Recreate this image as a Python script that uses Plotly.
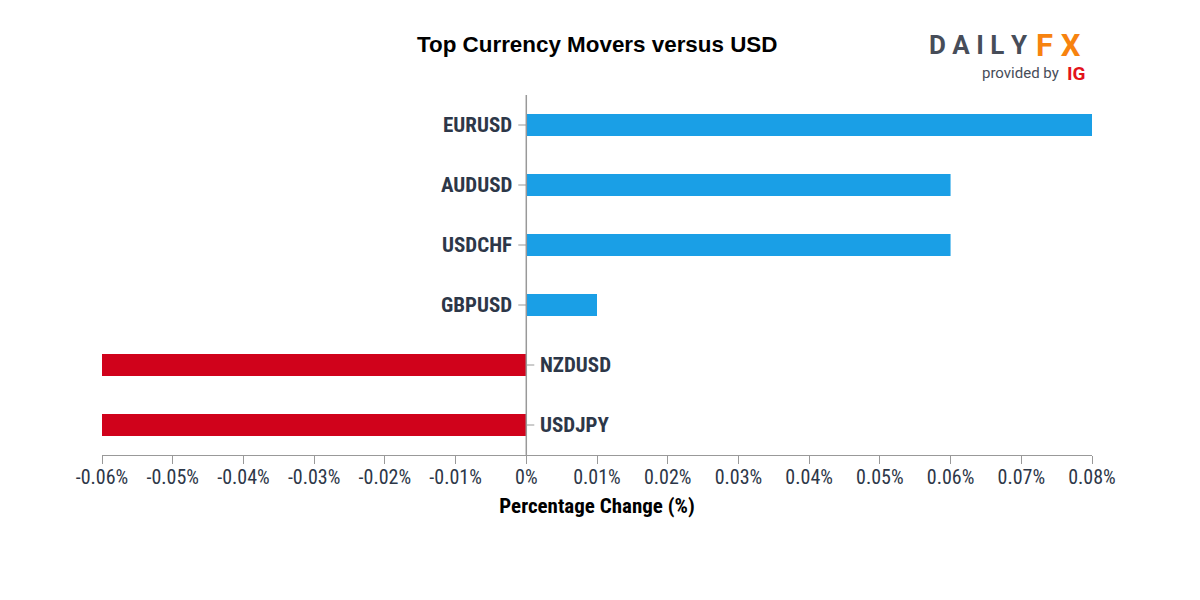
import plotly.graph_objects as go

pairs = ["EURUSD", "AUDUSD", "USDCHF", "GBPUSD", "NZDUSD", "USDJPY"]
changes = [0.08, 0.06, 0.06, 0.01, -0.06, -0.06]
tick_vals = [-0.06, -0.05, -0.04, -0.03, -0.02, -0.01, 0, 0.01, 0.02, 0.03, 0.04, 0.05, 0.06, 0.07, 0.08]
tick_text = ["-0.06%", "-0.05%", "-0.04%", "-0.03%", "-0.02%", "-0.01%", "0%", "0.01%", "0.02%",
             "0.03%", "0.04%", "0.05%", "0.06%", "0.07%", "0.08%"]

BLUE = "#1a9fe6"
RED = "#d0021b"
TXT = "#2d3748"
COND = "Roboto Condensed, Liberation Sans Narrow, DejaVu Sans Condensed, Roboto, sans-serif"

# plot domain in pixels
L, R, T, B = 102, 1092, 95, 455
W, H = 1200, 600


def px(x):
    return (x - L) / (R - L)


def py(y):
    return (B - y) / (B - T)


colors = [BLUE if v >= 0 else RED for v in changes]

fig = go.Figure(go.Bar(
    x=changes, y=pairs, orientation="h", marker=dict(color=colors, line=dict(width=0)),
    width=0.37, hoverinfo="x+y",
))

annotations = []
shapes = []
for p, v in zip(pairs, changes):
    if v >= 0:
        annotations.append(dict(x=0, y=p, xref="x", yref="y", text=f"<b>{p}</b>", showarrow=False,
                                xanchor="right", xshift=-12, font=dict(size=21, color=TXT, family=COND)))
        shapes.append(dict(type="line", xref="x", yref="y", xsizemode="pixel", xanchor=0,
                           x0=-8, x1=0, y0=p, y1=p, line=dict(color="#999999", width=1)))
    else:
        annotations.append(dict(x=0, y=p, xref="x", yref="y", text=f"<b>{p}</b>", showarrow=False,
                                xanchor="left", xshift=12, font=dict(size=21, color=TXT, family=COND)))
        shapes.append(dict(type="line", xref="x", yref="y", xsizemode="pixel", xanchor=0,
                           x0=0, x1=8, y0=p, y1=p, line=dict(color="#999999", width=1)))

# zero line
shapes.append(dict(type="line", xref="x", yref="paper", x0=0, x1=0, y0=0, y1=1,
                   line=dict(color="#999999", width=1.5), layer="above"))

# title
annotations.append(dict(x=px(597), y=py(44), xref="paper", yref="paper", showarrow=False,
                        text="<b>Top Currency Movers versus USD</b>",
                        font=dict(size=22.4, color="#000000", family="Liberation Sans, Arial, sans-serif"),
                        xanchor="center", yanchor="middle"))

# logo (as text)
logo_font = "Roboto, Liberation Sans, sans-serif"
annotations.append(dict(x=px(1030), y=py(45), xref="paper", yref="paper", showarrow=False,
                        xanchor="right", yanchor="middle",
                        text="<b>D A I L Y</b>", font=dict(size=26, color="#474d59", family=logo_font)))
annotations.append(dict(x=px(1034), y=py(45), xref="paper", yref="paper", showarrow=False,
                        xanchor="left", yanchor="middle",
                        text="<b>F X</b>", font=dict(size=31, color="#f7830f", family=logo_font)))
annotations.append(dict(x=px(1061), y=py(73), xref="paper", yref="paper", showarrow=False,
                        xanchor="right", yanchor="middle",
                        text="provided by", font=dict(size=15, color="#474d59", family=logo_font)))
annotations.append(dict(x=px(1065), y=py(73), xref="paper", yref="paper", showarrow=False,
                        xanchor="left", yanchor="middle",
                        text="<b>IG</b>", font=dict(size=19, color="#e3131b", family=logo_font)))

fig.update_layout(
    width=W, height=H,
    paper_bgcolor="white", plot_bgcolor="white",
    margin=dict(l=L, r=W - R, t=T, b=H - B),
    showlegend=False,
    xaxis=dict(range=[-0.06, 0.08], tickvals=tick_vals, ticktext=tick_text, showgrid=False,
               zeroline=False, showline=True, linecolor="#999999", linewidth=1,
               ticks="outside", ticklen=8, tickcolor="#999999", ticklabelstandoff=-4,
               tickfont=dict(size=20, color=TXT, family=COND),
               title=dict(text="<b>Percentage Change (%)</b>", standoff=10,
                          font=dict(size=21, color="#000000", family=COND))),
    yaxis=dict(categoryorder="array", categoryarray=pairs[::-1], showticklabels=False,
               showgrid=False, zeroline=False, showline=False, range=[-0.5, 5.5]),
    shapes=shapes,
    annotations=annotations,
)

fig.write_html("out.html", config={"displayModeBar": False},
               post_script="document.body.style.margin='0';")
